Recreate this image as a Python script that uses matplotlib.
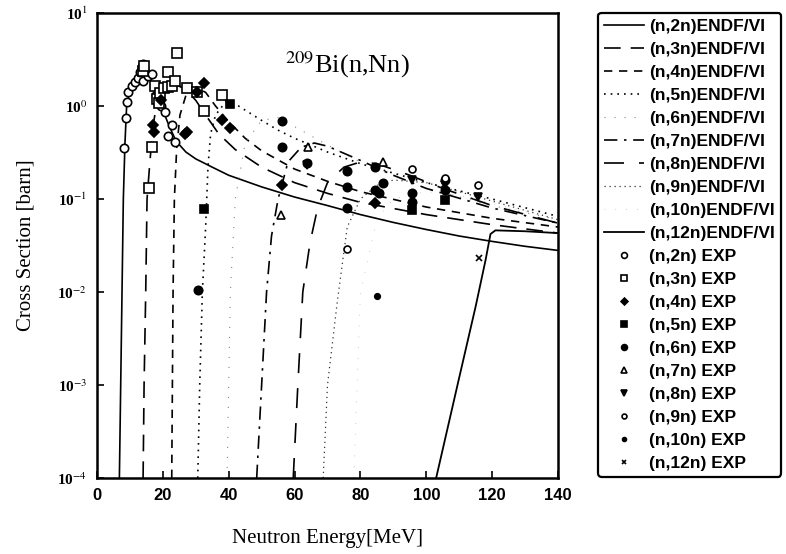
import matplotlib
matplotlib.use('Agg')
import matplotlib.pyplot as plt

# ---- ENDF/B-VI evaluated curves (energy in MeV, cross section in barn) ----
e_2n = [6.8, 7.2, 7.6, 8.0, 8.5, 9.0, 10.0, 11.0, 12.0, 13.0, 14.0, 15.0, 16.0, 17.0, 18.0, 19.0, 20.0,
        22.0, 24.0, 27.0, 30.0, 35.0, 40.0, 50.0, 60.0, 70.0, 80.0, 90.0, 100.0, 110.0, 120.0, 130.0, 140.0]
s_2n = [1e-4, 1e-3, 1e-2, 0.1, 0.4, 1.0, 1.5, 1.8, 2.05, 2.2, 2.25, 2.1, 1.9, 1.75, 1.4, 1.1, 0.9,
        0.6, 0.42, 0.32, 0.27, 0.22, 0.18, 0.135, 0.105, 0.085, 0.068, 0.056, 0.047, 0.040, 0.035, 0.031, 0.028]

e_3n = [14.0, 14.3, 14.8, 15.2, 16.1, 17.0, 18.0, 20.0, 22.0, 24.0, 27.0, 30.0, 33.0, 37.0, 42.0,
        50.0, 60.0, 70.0, 80.0, 100.0, 120.0, 140.0]
s_3n = [1e-4, 1e-3, 1e-2, 0.1, 0.26, 0.6, 1.0, 1.5, 1.75, 1.7, 1.5, 1.15, 0.8, 0.5, 0.34,
        0.22, 0.15, 0.115, 0.092, 0.068, 0.053, 0.043]

e_4n = [22.7, 22.9, 23.1, 23.5, 24.2, 25.2, 27.0, 30.0, 33.0, 36.0, 40.0, 45.0, 50.0, 60.0, 70.0,
        80.0, 100.0, 120.0, 140.0]
s_4n = [1e-4, 1e-3, 1e-2, 0.1, 0.35, 0.8, 1.3, 1.6, 1.4, 1.0, 0.68, 0.45, 0.33, 0.21, 0.155,
        0.12, 0.082, 0.062, 0.05]

e_5n = [30.6, 31.2, 32.0, 33.0, 33.7, 34.5, 36.0, 39.0, 43.0, 50.0, 55.0, 60.0, 70.0, 80.0, 90.0,
        100.0, 120.0, 140.0]
s_5n = [1e-4, 1e-3, 1e-2, 0.05, 0.22, 0.5, 0.8, 1.1, 1.0, 0.7, 0.55, 0.45, 0.32, 0.24, 0.19,
        0.15, 0.1, 0.065]

e_6n = [39.5, 40.5, 42.0, 45.0, 50.0, 55.0, 60.0, 70.0, 80.0, 100.0, 120.0, 140.0]
s_6n = [1e-4, 1e-2, 0.1, 0.4, 0.7, 0.75, 0.6, 0.38, 0.25, 0.13, 0.085, 0.06]

e_7n = [48.5, 50.0, 51.5, 53.0, 55.0, 58.0, 62.0, 66.0, 70.0, 80.0, 90.0, 100.0, 120.0, 140.0]
s_7n = [1e-4, 1e-3, 1e-2, 0.04, 0.1, 0.25, 0.36, 0.4, 0.37, 0.26, 0.18, 0.13, 0.08, 0.055]

e_8n = [59.6, 61.0, 62.5, 64.7, 67.0, 70.0, 75.0, 80.0, 85.0, 95.0, 105.0, 120.0, 140.0]
s_8n = [1e-4, 1e-3, 1e-2, 0.034, 0.08, 0.15, 0.22, 0.25, 0.24, 0.18, 0.13, 0.085, 0.055]

e_9n = [68.7, 70.0, 73.0, 76.0, 80.0, 85.0, 90.0, 100.0, 110.0, 120.0, 140.0]
s_9n = [1e-4, 1e-3, 8e-3, 0.05, 0.1, 0.14, 0.16, 0.15, 0.12, 0.095, 0.06]

e_10n = [78.0, 80.0, 85.0, 90.0, 100.0, 110.0, 120.0, 140.0]
s_10n = [1e-4, 1e-2, 0.06, 0.1, 0.12, 0.11, 0.09, 0.06]

e_12n = [103.0, 110.0, 115.0, 118.0, 119.5, 121.0, 130.0, 140.0]
s_12n = [1e-4, 1.2e-3, 7e-3, 0.022, 0.042, 0.046, 0.045, 0.043]

# ---- experimental points ----
x_2n = [8.2, 8.8, 9.1, 9.4, 10.5, 11.5, 12.5, 13.2, 13.6, 14.0, 14.3, 14.6, 14.1, 15.5, 16.6, 18.0,
        19.0, 19.5, 20.6, 21.6, 22.7, 23.7]
y_2n = [0.35, 0.74, 1.1, 1.4, 1.65, 1.8, 2.0, 2.3, 2.6, 2.8, 2.5, 2.2, 1.85, 2.1, 2.2, 1.3,
        1.15, 1.0, 0.87, 0.48, 0.62, 0.41]

x_3n = [15.8, 16.7, 17.6, 18.3, 18.8, 19.2, 20.2, 21.6, 21.6, 22.8, 23.7, 24.2, 27.3, 30.4, 32.5, 38.0,
        14.0, 14.4]
y_3n = [0.13, 0.36, 1.65, 1.2, 1.08, 1.38, 1.55, 1.6, 2.3, 1.65, 1.85, 3.7, 1.57, 1.4, 0.88, 1.3,
        2.4, 2.7]

x_4n = [17.0, 17.3, 19.5, 26.7, 27.3, 30.3, 32.5, 38.0, 40.4, 56.2, 84.4]
y_4n = [0.62, 0.52, 1.15, 0.5, 0.53, 1.4, 1.78, 0.7, 0.58, 0.14, 0.091]

x_5n = [32.5, 40.4, 95.7, 105.7]
y_5n = [0.078, 1.05, 0.076, 0.098]

x_6n = [30.6, 56.2, 56.2, 63.7, 76.0, 76.0, 76.0, 84.4, 84.4, 85.5, 86.8, 95.7, 95.7, 105.7, 105.7]
y_6n = [0.0105, 0.69, 0.36, 0.245, 0.2, 0.135, 0.08, 0.22, 0.125, 0.115, 0.15, 0.117, 0.093, 0.125, 0.16]

x_7n = [55.9, 64.0, 86.8]
y_7n = [0.067, 0.36, 0.25]

x_8n = [63.7, 95.7, 105.7, 115.7]
y_8n = [0.23, 0.16, 0.14, 0.105]

x_9n = [76.0, 95.7, 105.7, 115.7]
y_9n = [0.029, 0.21, 0.17, 0.14]

x_10n = [85.0]
y_10n = [0.0091]

x_12n = [116.0]
y_12n = [0.023]

x_ticks = [0, 20, 40, 60, 80, 100, 120, 140]
y_ticks = [1e-4, 1e-3, 1e-2, 1e-1, 1e0, 1e1]
y_tick_labels = ['10$^{-4}$', '10$^{-3}$', '10$^{-2}$', '10$^{-1}$', '10$^{0}$', '10$^{1}$']

plt.rcParams['mathtext.fontset'] = 'stix'
serif = 'Liberation Serif'
sans = 'Liberation Sans'

fig = plt.figure(figsize=(7.86, 5.54), dpi=100)
ax = fig.add_axes([0.1234, 0.1372, 0.5865, 0.8393])

# --- ENDF curves ---
ax.plot(e_2n, s_2n, color='black', lw=1.2, ls='-', label='(n,2n)ENDF/VI')
ax.plot(e_3n, s_3n, color='black', lw=1.2, ls=(0, (10, 6)), label='(n,3n)ENDF/VI')
ax.plot(e_4n, s_4n, color='black', lw=1.2, ls=(0, (5, 4)), label='(n,4n)ENDF/VI')
ax.plot(e_5n, s_5n, color='black', lw=1.2, ls=(0, (1, 3)), label='(n,5n)ENDF/VI')
ax.plot(e_6n, s_6n, color='#888888', lw=0.8, ls=(0, (1, 8)), label='(n,6n)ENDF/VI')
ax.plot(e_7n, s_7n, color='black', lw=1.2, ls=(0, (8, 4, 1.5, 4)), label='(n,7n)ENDF/VI')
ax.plot(e_8n, s_8n, color='black', lw=1.2, ls=(0, (12, 9)), label='(n,8n)ENDF/VI')
ax.plot(e_9n, s_9n, color='#333333', lw=0.9, ls=(0, (1, 3)), label='(n,9n)ENDF/VI')
ax.plot(e_10n, s_10n, color='#bbbbbb', lw=0.6, ls=(0, (1, 12)), label='(n,10n)ENDF/VI')
ax.plot(e_12n, s_12n, color='black', lw=1.3, ls='-', label='(n,12n)ENDF/VI')

# --- experimental data ---
mk = dict(ls='none', color='black', markeredgewidth=1.2)
ax.plot(x_2n, y_2n, marker='o', ms=6, mfc='white', label='(n,2n) EXP', **mk)
ax.plot(x_3n, y_3n, marker='s', ms=6.5, mfc='white', label='(n,3n) EXP', **mk)
ax.plot(x_4n, y_4n, marker='D', ms=5, mfc='black', label='(n,4n) EXP', **mk)
ax.plot(x_5n, y_5n, marker='s', ms=6, mfc='black', label='(n,5n) EXP', **mk)
ax.plot(x_6n, y_6n, marker='o', ms=6, mfc='black', label='(n,6n) EXP', **mk)
ax.plot(x_7n, y_7n, marker='^', ms=6, mfc='white', label='(n,7n) EXP', **mk)
ax.plot(x_8n, y_8n, marker='v', ms=6, mfc='black', label='(n,8n) EXP', **mk)
ax.plot(x_9n, y_9n, marker='o', ms=5, mfc='white', label='(n,9n) EXP', **mk)
ax.plot(x_10n, y_10n, marker='o', ms=4, mfc='black', label='(n,10n) EXP', **mk)
ax.plot(x_12n, y_12n, marker='x', ms=5, mfc='black', label='(n,12n) EXP', **mk)

ax.set_yscale('log')
ax.set_xlim(0, 140)
ax.set_ylim(1e-4, 1e1)
ax.set_xticks(x_ticks)
ax.set_xticklabels([str(t) for t in x_ticks], fontfamily=sans, fontweight='bold', fontsize=12)
ax.set_yticks(y_ticks)
ax.set_yticklabels(y_tick_labels, fontfamily=serif, fontweight='bold', fontsize=11)
ax.minorticks_off()
ax.tick_params(direction='in', length=5, width=1.2, pad=7)

for sp in ax.spines.values():
    sp.set_linewidth(1.8)

ax.set_xlabel('Neutron Energy[MeV]', fontfamily=serif, fontsize=15, labelpad=19)
ax.set_ylabel('Cross Section [barn]', fontfamily=serif, fontsize=15, labelpad=16)

ax.text(0.408, 0.888, '$^{209}$Bi(n,Nn)', transform=ax.transAxes, fontfamily=serif,
        fontsize=19, va='center', ha='left')

leg = ax.legend(loc='upper left', bbox_to_anchor=(0.761, 0.9765), bbox_transform=fig.transFigure,
                prop={'family': sans, 'weight': 'bold', 'size': 12.5}, handlelength=2.3,
                handletextpad=0.3, labelspacing=0.45, borderpad=0.35, fancybox=True,
                framealpha=1, numpoints=1, markerscale=0.7, borderaxespad=0)
leg.get_frame().set_edgecolor('black')
leg.get_frame().set_linewidth(1.6)

fig.savefig('out.png', dpi=100)
